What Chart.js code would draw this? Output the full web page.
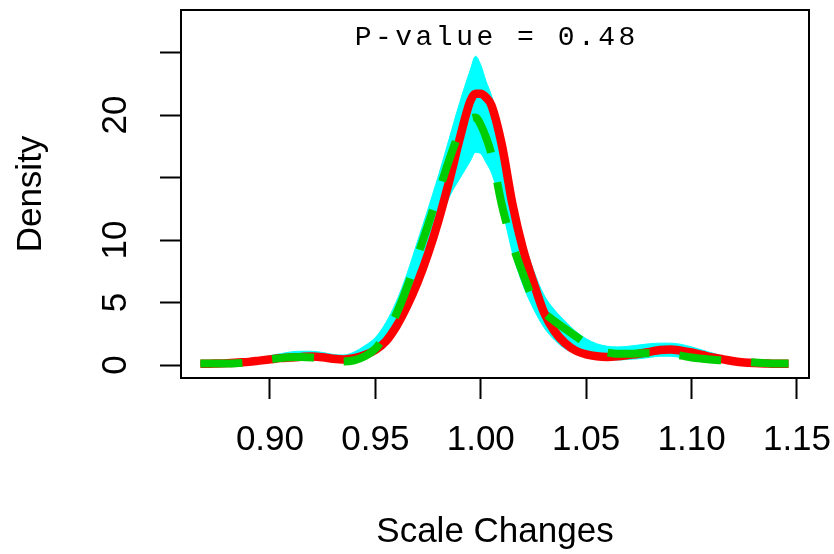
<!DOCTYPE html>
<html>
<head>
<meta charset="utf-8">
<title>Scale Changes density</title>
<script src="https://cdn.jsdelivr.net/npm/chart.js@4.4.0/dist/chart.umd.min.js"></script>
<style>
    html, body { margin: 0; padding: 0; background: #fff; }
    #wrap { width: 834px; height: 554px; }
</style>
</head>
<body>
<div id="wrap"><canvas id="chart" width="834" height="554"></canvas></div>
<script>
// grid of scale-change values the densities were read at
const xs = [
    0.867, 0.870, 0.875, 0.880, 0.885, 0.890, 0.895, 0.900, 0.905, 0.910,
    0.915, 0.920, 0.925, 0.930, 0.935, 0.940, 0.945, 0.950, 0.955, 0.960,
    0.965, 0.970, 0.975, 0.980, 0.985, 0.990, 0.995, 0.9975, 1.000, 1.0025,
    1.005, 1.010, 1.015, 1.020, 1.025, 1.030, 1.035, 1.040, 1.045, 1.050,
    1.055, 1.060, 1.065, 1.070, 1.075, 1.080, 1.085, 1.090, 1.095, 1.100,
    1.105, 1.110, 1.115, 1.120, 1.125, 1.130, 1.135, 1.140, 1.145, 1.146
];

// red solid curve
const observedDensity = [
    0.10, 0.10, 0.12, 0.15, 0.20, 0.25, 0.35, 0.45, 0.55, 0.60,
    0.65, 0.68, 0.62, 0.50, 0.45, 0.55, 0.80, 1.20, 1.90, 3.10,
    4.70, 6.60, 8.90, 11.6, 14.7, 18.1, 21.1, 21.7, 21.7, 21.4,
    20.8, 17.6, 12.9, 9.30, 6.60, 4.20, 2.70, 1.75, 1.15, 0.85,
    0.70, 0.65, 0.70, 0.80, 0.90, 1.05, 1.20, 1.25, 1.15, 1.00,
    0.80, 0.60, 0.45, 0.30, 0.20, 0.15, 0.12, 0.10, 0.10, 0.10
];

// green dashed curve
const referenceDensity = [
    0.12, 0.12, 0.12, 0.12, 0.15, 0.20, 0.30, 0.45, 0.55, 0.62,
    0.65, 0.60, 0.50, 0.35, 0.28, 0.38, 0.70, 1.30, 2.50, 4.10,
    6.20, 8.70, 11.2, 13.8, 16.4, 18.6, 19.7, 19.8, 19.2, 18.2,
    16.9, 12.8, 9.70, 7.30, 5.20, 4.20, 3.50, 2.90, 2.30, 1.70,
    1.20, 1.00, 0.90, 0.90, 0.92, 0.95, 0.90, 0.85, 0.75, 0.60,
    0.50, 0.42, 0.36, 0.30, 0.25, 0.20, 0.15, 0.12, 0.12, 0.12
];

// cyan envelope
const bandUpper = [
    0.20, 0.20, 0.22, 0.25, 0.30, 0.40, 0.55, 0.75, 0.90, 1.05,
    1.10, 1.10, 1.00, 0.85, 0.80, 1.05, 1.55, 2.20, 3.40, 5.10,
    7.30, 9.90, 12.5, 15.2, 18.1, 21.0, 23.6, 24.7, 24.0, 22.7,
    21.6, 18.5, 14.0, 10.3, 7.60, 5.60, 4.40, 3.50, 2.70, 2.10,
    1.70, 1.50, 1.45, 1.50, 1.60, 1.70, 1.75, 1.75, 1.65, 1.45,
    1.20, 0.95, 0.70, 0.50, 0.35, 0.25, 0.20, 0.15, 0.15, 0.15
];
const bandLower = [
    0.05, 0.05, 0.05, 0.08, 0.10, 0.15, 0.20, 0.28, 0.35, 0.40,
    0.45, 0.45, 0.40, 0.30, 0.25, 0.30, 0.50, 0.90, 1.50, 2.60,
    4.20, 6.10, 8.30, 11.0, 13.4, 14.9, 16.3, 17.0, 16.9, 16.2,
    15.4, 12.6, 9.00, 6.40, 4.50, 3.00, 2.00, 1.30, 0.90, 0.60,
    0.45, 0.40, 0.40, 0.45, 0.50, 0.60, 0.70, 0.70, 0.60, 0.50,
    0.40, 0.30, 0.20, 0.15, 0.10, 0.08, 0.05, 0.05, 0.05, 0.05
];

const xTicks = [0.90, 0.95, 1.00, 1.05, 1.10, 1.15];
const yTicks = [0, 5, 10, 15, 20, 25];
const yTickLabels = ['0', '5', '10', '', '20', ''];
const pValueText = 'P-value = 0.48';

const toPoints = ys => xs.map((x, i) => ({ x: x, y: ys[i] }));

const labelFont = { family: 'Liberation Sans, Arial, sans-serif', size: 35, lineHeight: 1.2 };

// box round the plot region and the monospace p-value note
const framePlugin = {
    id: 'frame',
    afterDraw(chart) {
        const { ctx, chartArea: a } = chart;
        ctx.save();
        ctx.strokeStyle = '#000';
        ctx.lineWidth = 2;
        ctx.strokeRect(a.left, a.top, a.right - a.left, a.bottom - a.top);

        ctx.font = '28px "Liberation Mono", "DejaVu Sans Mono", monospace';
        ctx.fillStyle = '#000';
        ctx.textAlign = 'center';
        ctx.textBaseline = 'alphabetic';
        const cx = (a.left + a.right) / 2;
        const n = pValueText.length;
        for (let i = 0; i < n; i++) {
            ctx.fillText(pValueText[i], cx + (i - (n - 1) / 2) * 20.3, 45);
        }
        ctx.restore();
    }
};

const tickGrid = {
    drawOnChartArea: false,
    drawTicks: true,
    tickLength: 21,
    tickWidth: 2,
    tickColor: '#000',
    color: '#000'
};

// keep the plot box where the layout padding puts it
const noEdgePadding = s => {
    s.paddingLeft = 0;
    s.paddingRight = 0;
    s.paddingTop = 0;
    s.paddingBottom = 0;
};

new Chart(document.getElementById('chart'), {
    type: 'line',
    data: {
        datasets: [
            {
                label: 'upper',
                data: toPoints(bandUpper),
                borderColor: '#00FFFF',
                backgroundColor: '#00FFFF',
                borderWidth: 1,
                fill: '+1',
                order: 3
            },
            {
                label: 'lower',
                data: toPoints(bandLower),
                borderColor: '#00FFFF',
                borderWidth: 1,
                fill: false,
                order: 2
            },
            {
                label: 'observed',
                data: toPoints(observedDensity),
                borderColor: '#FF0000',
                borderWidth: 8.5,
                borderJoinStyle: 'round',
                fill: false,
                order: 1
            },
            {
                label: 'reference',
                data: toPoints(referenceDensity),
                borderColor: '#00CD00',
                borderWidth: 8,
                borderDash: [42, 30],
                borderCapStyle: 'butt',
                fill: false,
                order: 0
            }
        ]
    },
    options: {
        responsive: false,
        animation: false,
        devicePixelRatio: 1,
        cubicInterpolationMode: 'monotone',
        elements: { point: { radius: 0 } },
        layout: { padding: { top: 10, right: 25, left: 0, bottom: 0 } },
        plugins: {
            legend: { display: false },
            tooltip: { enabled: false }
        },
        scales: {
            x: {
                type: 'linear',
                min: 0.8578,
                max: 1.1557,
                afterBuildTicks: s => { s.ticks = xTicks.map(v => ({ value: v })); },
                afterFit: s => { s.height = 176; noEdgePadding(s); },
                grid: tickGrid,
                border: { display: false },
                ticks: {
                    font: labelFont,
                    color: '#000',
                    padding: 20,
                    maxRotation: 0,
                    autoSkip: false,
                    callback: v => v.toFixed(2)
                },
                title: {
                    display: true,
                    text: 'Scale Changes',
                    font: labelFont,
                    color: '#000',
                    padding: { top: 0, bottom: 1 }
                }
            },
            y: {
                type: 'linear',
                min: -1.04,
                max: 28.4,
                afterBuildTicks: s => { s.ticks = yTicks.map(v => ({ value: v })); },
                afterFit: s => { s.width = 181; noEdgePadding(s); },
                grid: tickGrid,
                border: { display: false },
                ticks: {
                    font: labelFont,
                    color: '#000',
                    padding: 24,
                    minRotation: 90,
                    maxRotation: 90,
                    crossAlign: 'center',
                    autoSkip: false,
                    callback: (v, i) => yTickLabels[i]
                },
                title: {
                    display: true,
                    text: 'Density',
                    font: labelFont,
                    color: '#000',
                    padding: { top: 10, bottom: 0 }
                }
            }
        }
    },
    plugins: [framePlugin]
});
</script>
</body>
</html>
